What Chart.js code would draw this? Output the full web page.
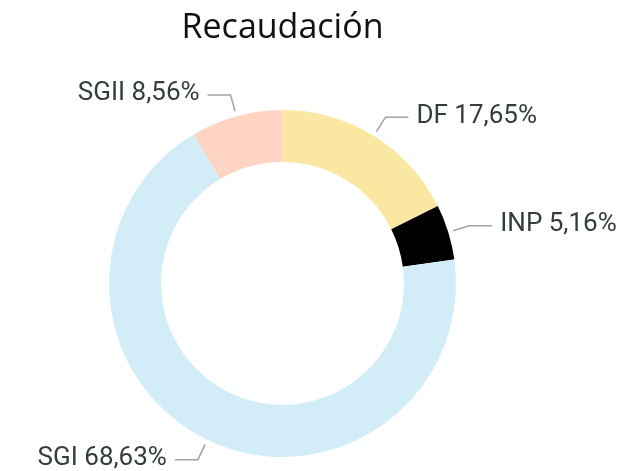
<!DOCTYPE html>
<html lang="es">
<head>
  <meta charset="UTF-8" />
  <title>Recaudación</title>
  <style>
    * { margin: 0; padding: 0; box-sizing: border-box; }
    body { background: #fff; }
    #wrap { width: 622px; height: 471px; position: relative; }
  </style>
</head>
<body>
  <div id="wrap"><canvas id="chart"></canvas></div>

  <script src="https://cdn.jsdelivr.net/npm/chart.js"></script>
  <script>
    // datos (porcentajes)
    const categorias = ["DF", "INP", "SGI", "SGII"];
    const valores = [17.65, 5.16, 68.63, 8.56];
    const colores = ["#FAE8A2", "#000000", "#D2EDF7", "#FFD4C4"];

    // etiquetas con línea guía, como en el original
    const etiquetasPlugin = {
      id: 'etiquetas',
      afterDatasetsDraw(chart) {
        const ctx = chart.ctx;
        const meta = chart.getDatasetMeta(0);
        ctx.save();
        ctx.font = '26px Roboto, "DejaVu Sans", sans-serif';
        ctx.textBaseline = 'middle';
        meta.data.forEach((arc, i) => {
          const mid = (arc.startAngle + arc.endAngle) / 2;
          const r = arc.outerRadius;
          const cos = Math.cos(mid), sin = Math.sin(mid);
          const x1 = arc.x + cos * (r + 5), y1 = arc.y + sin * (r + 5);
          const x2 = arc.x + cos * (r + 22), y2 = arc.y + sin * (r + 22);
          const dir = cos >= 0 ? 1 : -1;
          const x3 = x2 + dir * 23;

          ctx.strokeStyle = '#A3A3A3';
          ctx.lineWidth = 1.5;
          ctx.beginPath();
          ctx.moveTo(x1, y1);
          ctx.lineTo(x2, y2);
          ctx.lineTo(x3, y2);
          ctx.stroke();

          const txt = categorias[i] + ' ' + valores[i].toFixed(2).replace('.', ',') + '%';
          ctx.fillStyle = '#333D3C';
          ctx.textAlign = dir > 0 ? 'left' : 'right';
          ctx.fillText(txt, x3 + dir * 8, y2 - 1);
        });
        ctx.restore();
      }
    };

    new Chart(document.getElementById('chart'), {
      type: 'doughnut',
      data: {
        labels: categorias,
        datasets: [{
          data: valores,
          backgroundColor: colores,
          borderWidth: 0,
          hoverOffset: 0
        }]
      },
      options: {
        responsive: true,
        maintainAspectRatio: false,
        animation: false,
        cutout: '70%',
        layout: { padding: { left: 109, right: 166, top: 0, bottom: 14 } },
        plugins: {
          legend: { display: false },
          tooltip: { enabled: false },
          title: {
            display: true,
            text: 'Recaudación',
            color: '#111111',
            font: { family: '"Open Sans", sans-serif', size: 34, weight: 'normal', lineHeight: 1.2 },
            padding: { top: 8, bottom: 61 }
          }
        }
      },
      plugins: [etiquetasPlugin]
    });
  </script>
</body>
</html>
